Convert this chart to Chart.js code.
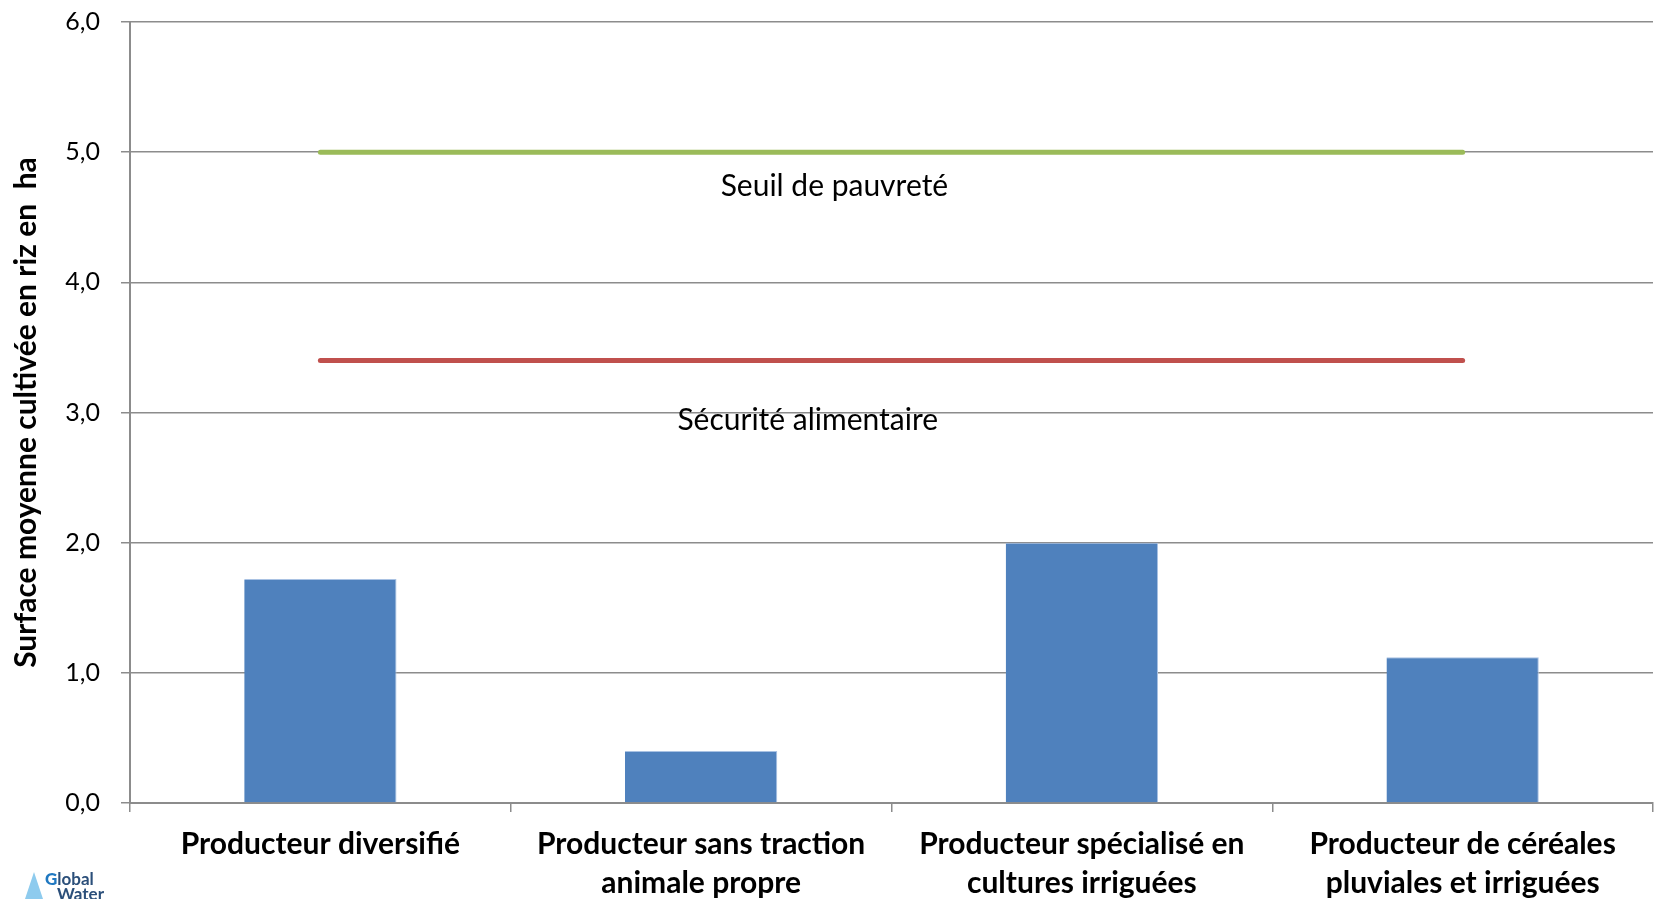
<!DOCTYPE html>
<html>
<head>
<meta charset="utf-8">
<script src="https://cdn.jsdelivr.net/npm/chart.js@4"></script>
<style>
    html, body { margin: 0; padding: 0; background: #fff; }
    #wrap { position: relative; width: 1654px; height: 899px; overflow: hidden; }
    #logo { position: absolute; left: 24px; top: 870px; font-family: Lato, sans-serif; font-weight: bold; }
    #logo .tri { position: absolute; left: 0; top: 2px; width: 0; height: 0;
        border-left: 10px solid transparent; border-right: 10px solid transparent; border-bottom: 30px solid #8ecbee; }
    #logo .t1 { position: absolute; left: 21px; top: 0; font-size: 17px; color: #2b4f7a; line-height: 17px; }
    #logo .t1 b { color: #1f78c1; }
    #logo .t2 { position: absolute; left: 33px; top: 15px; font-size: 17px; color: #2b4f7a; line-height: 17px; }
</style>
</head>
<body>
<div id="wrap">
    <canvas id="riceChart" width="1654" height="899"></canvas>
    <div id="logo"><div class="tri"></div><div class="t1"><b>G</b>lobal</div><div class="t2">Water</div></div>
</div>
<script>
// categories (two lines each)
const categories = [
    ['Producteur diversifié'],
    ['Producteur sans traction', 'animale propre'],
    ['Producteur spécialisé en', 'cultures irriguées'],
    ['Producteur de céréales', 'pluviales et irriguées']
];
// average rice area in ha
const surfaceValues = [1.72, 0.40, 2.00, 1.12];
// reference lines
const povertyLine = [5.0, 5.0, 5.0, 5.0];
const foodSecurityLine = [3.4, 3.4, 3.4, 3.4];
const lineNames = ['Seuil de pauvreté', 'Sécurité alimentaire'];
const yTicks = [0, 1, 2, 3, 4, 5, 6];

const gridColor = '#8c8c8c';

// labels written under each reference line: [category index, value]
const lineLabelPos = [[1.35, 4.74], [1.28, 2.94]];

const lineLabelsPlugin = {
    id: 'lineLabels',
    afterDatasetsDraw(chart) {
        const { ctx, scales } = chart;
        ctx.save();
        ctx.font = '30px Lato';
        ctx.fillStyle = '#000';
        ctx.textAlign = 'center';
        ctx.textBaseline = 'middle';
        lineNames.forEach((name, i) => {
            const x = scales.x.getPixelForValue(lineLabelPos[i][0]);
            const y = scales.y.getPixelForValue(lineLabelPos[i][1]);
            ctx.fillText(name, x, y);
        });
        ctx.restore();
    }
};

new Chart(document.getElementById('riceChart'), {
    type: 'bar',
    data: {
        labels: categories,
        datasets: [
            {
                label: 'Surface',
                data: surfaceValues,
                backgroundColor: '#4f81bd',
                borderColor: '#a9c2e3',
                borderWidth: { right: 1, top: 1 },
                barPercentage: 0.4,
                categoryPercentage: 1.0,
                order: 2
            },
            {
                type: 'line',
                label: lineNames[0],
                data: povertyLine,
                borderColor: '#9bbb59',
                borderWidth: 5,
                borderCapStyle: 'round',
                pointRadius: 0,
                order: 1
            },
            {
                type: 'line',
                label: lineNames[1],
                data: foodSecurityLine,
                borderColor: '#c0504d',
                borderWidth: 5,
                borderCapStyle: 'round',
                pointRadius: 0,
                order: 1
            }
        ]
    },
    options: {
        responsive: false,
        animation: false,
        layout: { padding: { top: 22, right: 1, left: 0, bottom: 0 } },
        plugins: {
            legend: { display: false },
            tooltip: { enabled: false }
        },
        scales: {
            x: {
                offset: true,
                grid: { display: true, drawOnChartArea: false, offset: true, color: gridColor, lineWidth: 1.5, tickLength: 9 },
                border: { color: gridColor, width: 2 },
                ticks: { color: '#000', font: { family: 'Lato', size: 30, weight: 'bold', lineHeight: 1.3 }, padding: 13, maxRotation: 0, autoSkip: false },
                afterFit: (scale) => { scale.height = 96; }
            },
            y: {
                min: 0,
                max: 6,
                afterBuildTicks: (scale) => { scale.ticks = yTicks.map(v => ({ value: v })); },
                grid: { color: gridColor, lineWidth: 1.5, tickLength: 9 },
                border: { color: gridColor, width: 2 },
                ticks: {
                    color: '#000',
                    font: { family: 'Lato', size: 25 },
                    padding: 21,
                    callback: (v) => Number(v).toFixed(1).replace('.', ',')
                },
                title: {
                    display: true,
                    text: 'Surface moyenne cultivée en riz en  ha',
                    color: '#000',
                    font: { family: 'Lato', size: 30, weight: 'bold' },
                    padding: { top: 8, bottom: 0 }
                },
                afterFit: (scale) => {
                    scale.width = 130;
                    // keep the plot top fixed by the layout padding
                    scale.paddingTop = 0;
                    scale.paddingBottom = 0;
                }
            }
        }
    },
    plugins: [lineLabelsPlugin]
});
</script>
</body>
</html>
